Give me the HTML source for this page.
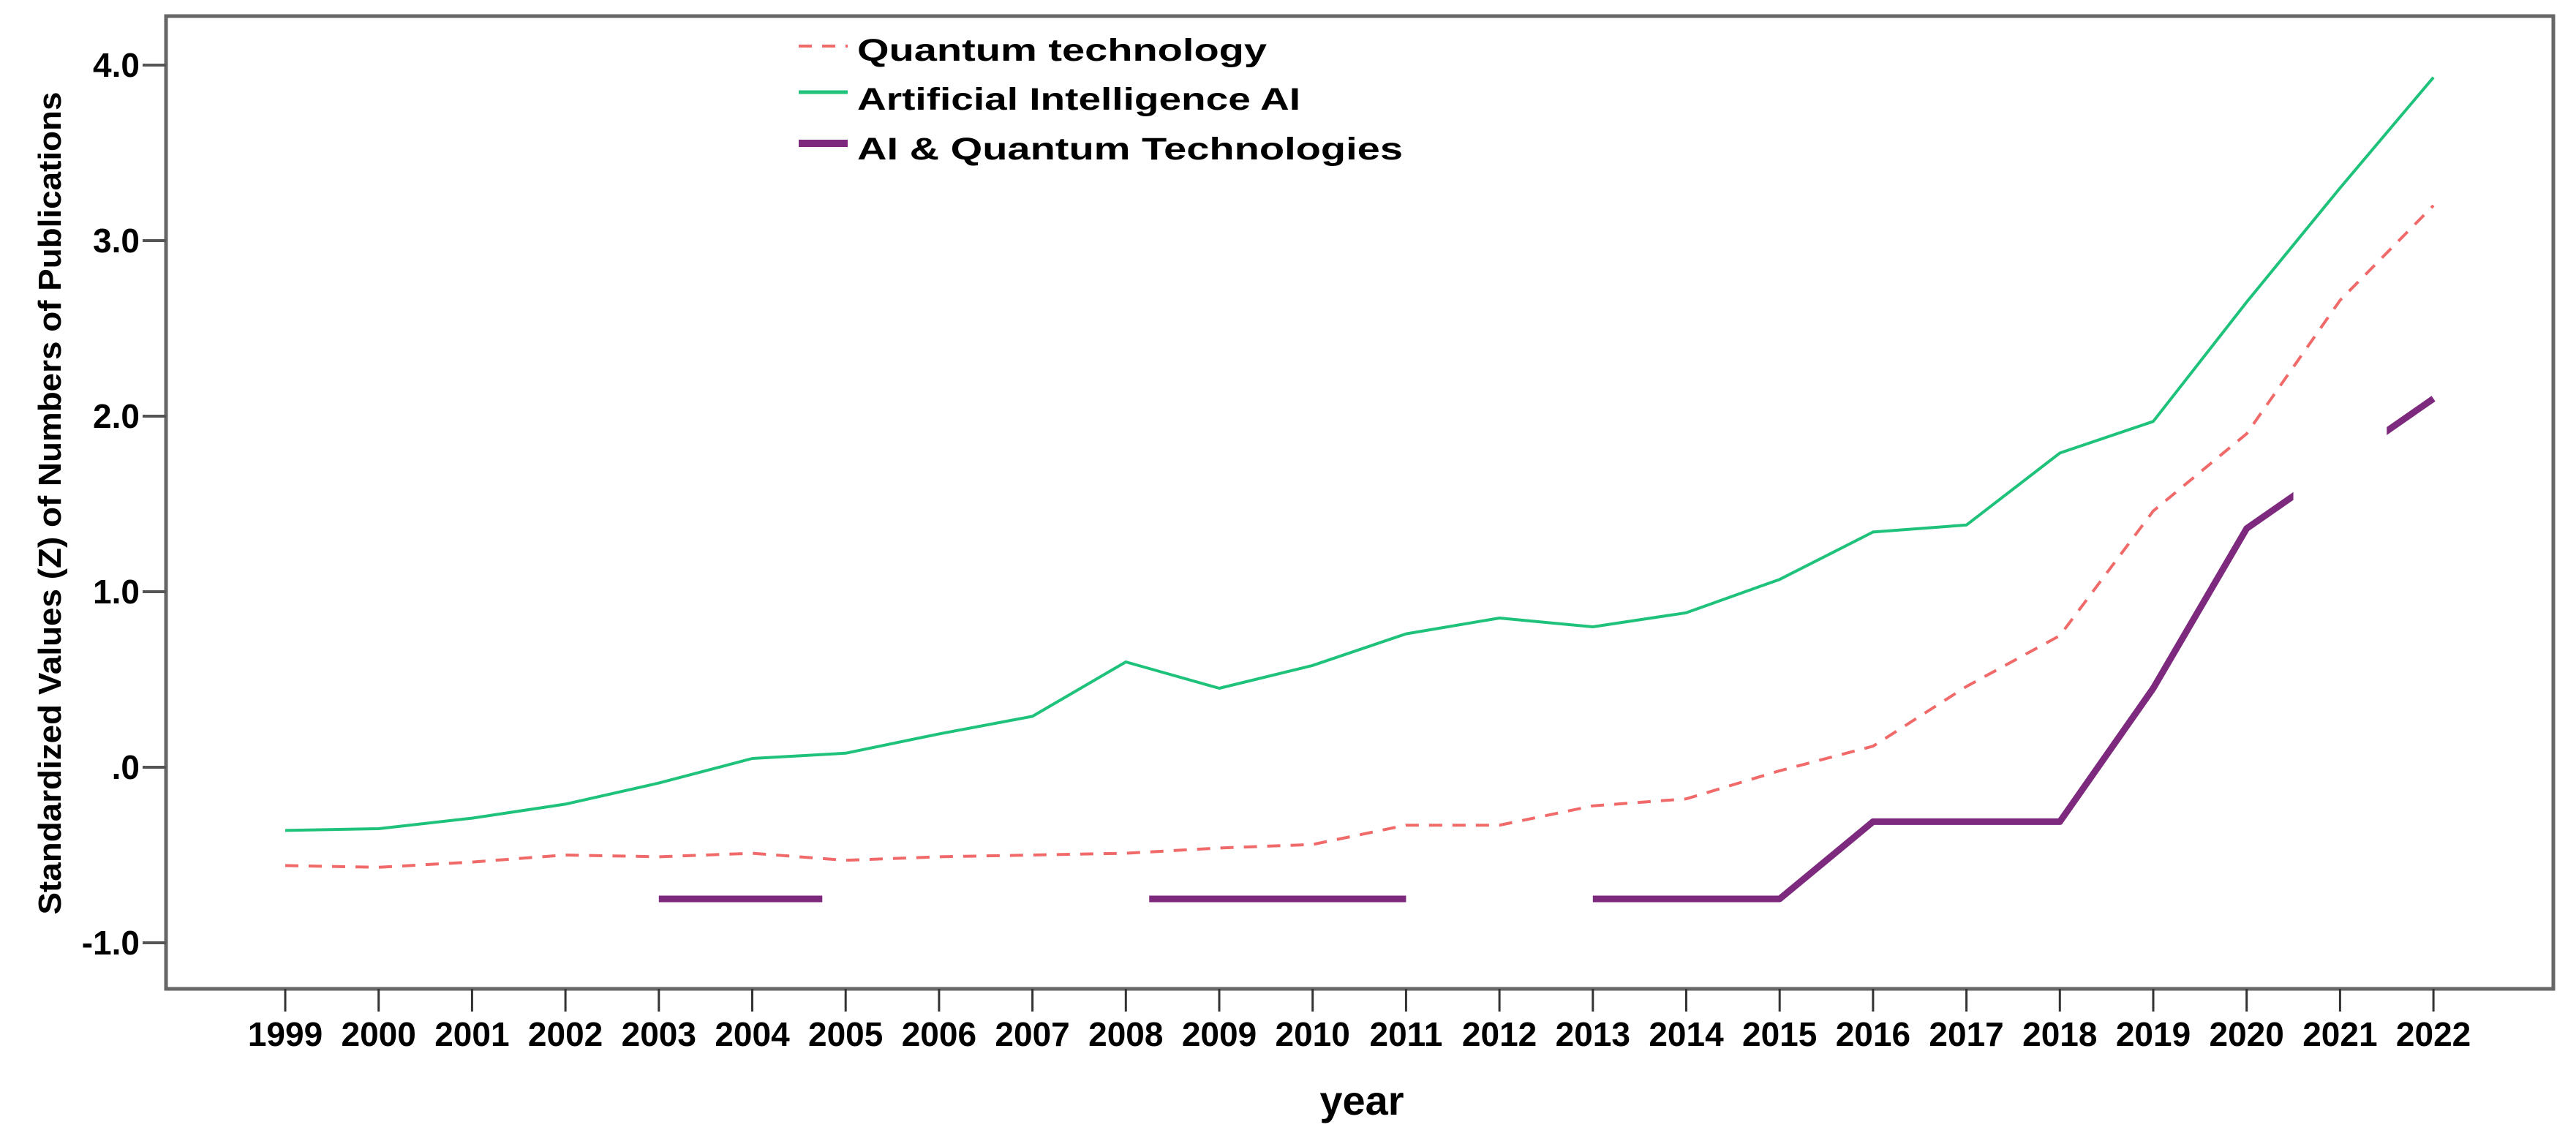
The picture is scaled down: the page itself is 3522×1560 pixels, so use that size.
<!DOCTYPE html>
<html><head><meta charset="utf-8"><style>
html,body{margin:0;padding:0;background:#fff;}
svg{display:block;font-family:"Liberation Sans",Arial,sans-serif;}
</style></head><body>
<svg id="chart" width="3522" height="1560" viewBox="0 0 3522 1560" xmlns="http://www.w3.org/2000/svg">
<defs><mask id="gapmask"><rect id="maskbg" x="0" y="0" width="3522" height="1560" fill="#fff"/></mask></defs>
<rect x="0" y="0" width="3522" height="1560" fill="#fff"/>
<g id="plot"></g>
<text transform="translate(83,688) rotate(-90)" text-anchor="middle" font-size="44" font-weight="bold" textLength="1125" lengthAdjust="spacingAndGlyphs">Standardized Values (Z) of Numbers of Publications</text>
<text x="1862" y="1524" text-anchor="middle" font-size="56" font-weight="bold">year</text>
<g>
  <line x1="1092" y1="63" x2="1159" y2="63" stroke="#f06a6a" stroke-width="4" stroke-dasharray="18,14"/>
  <text x="1172" y="83" font-size="43" font-weight="bold" textLength="560" lengthAdjust="spacingAndGlyphs">Quantum technology</text>
  <line x1="1092" y1="126" x2="1159" y2="126" stroke="#1fc27a" stroke-width="5"/>
  <text x="1172" y="150" font-size="43" font-weight="bold" textLength="606" lengthAdjust="spacingAndGlyphs">Artificial Intelligence AI</text>
  <line x1="1092" y1="196" x2="1159" y2="196" stroke="#7d2a7e" stroke-width="10"/>
  <text x="1172" y="218" font-size="43" font-weight="bold" textLength="746" lengthAdjust="spacingAndGlyphs">AI &amp; Quantum Technologies</text>
</g>
</svg>
<script>
const years = [1999,2000,2001,2002,2003,2004,2005,2006,2007,2008,2009,2010,2011,2012,2013,2014,2015,2016,2017,2018,2019,2020,2021,2022];
const aiValues = [-0.36,-0.35,-0.29,-0.21,-0.09,0.05,0.08,0.19,0.29,0.6,0.45,0.58,0.76,0.85,0.8,0.88,1.07,1.34,1.38,1.79,1.97,2.65,3.3,3.93];
const quantumValues = [-0.56,-0.57,-0.54,-0.5,-0.51,-0.49,-0.53,-0.51,-0.5,-0.49,-0.46,-0.44,-0.33,-0.33,-0.22,-0.18,-0.02,0.12,0.46,0.75,1.46,1.9,2.66,3.2];
const comboValues = [null,null,null,null,-0.75,-0.75,-0.75,-0.75,-0.75,-0.75,-0.75,-0.75,-0.75,-0.75,-0.75,-0.75,-0.75,-0.31,-0.31,-0.31,0.45,1.36,1.73,2.1];
const comboGapStart = [2004.75,2011,2020.5];
const comboGapEnd = [2008.25,2013,2021.5];
const yTickValues = [-1,0,1,2,3,4];
const yTickLabels = ["-1.0",".0","1.0","2.0","3.0","4.0"];

const NS="http://www.w3.org/2000/svg";
const X0=390, XSTEP=127.7, Y0=1049, YUNIT=240;
function xs(yr){return X0+(yr-years[0])*XSTEP;}
function ys(v){return Y0-v*YUNIT;}
const plot=document.getElementById('plot');
function mk(tag,attrs,parent){const e=document.createElementNS(NS,tag);for(const k in attrs)e.setAttribute(k,attrs[k]);(parent||plot).appendChild(e);return e;}

const frame=mk('rect',{x:227,y:22,width:3264,height:1330,fill:'none',stroke:'#666',"stroke-width":5});



yTickValues.forEach((v,i)=>{
  const t=mk('line',{x1:195,x2:227,y1:ys(v),y2:ys(v),stroke:'#555',"stroke-width":4});
  
  
  const l=mk('text',{x:191,y:ys(v)+16,"text-anchor":"end","font-size":46,"font-weight":"bold"});
  l.textContent=yTickLabels[i];
  
  
});
years.forEach(yr=>{
  const t=mk('line',{x1:xs(yr),x2:xs(yr),y1:1352,y2:1383,stroke:'#333',"stroke-width":3});
  
  
  const l=mk('text',{x:xs(yr),y:1430,"text-anchor":"middle","font-size":46,"font-weight":"bold"});
  l.textContent=String(yr);
  
  
});

function pathFrom(vals){
  let d='',pen=false;
  vals.forEach((v,i)=>{
    if(v===null){pen=false;return;}
    d+=(pen?'L':'M')+xs(years[i]).toFixed(1)+','+ys(v).toFixed(1);
    pen=true;
  });
  return d;
}
const mask=document.getElementById('gapmask');
comboGapStart.forEach((s,i)=>{
  mk('rect',{x:xs(s),y:0,width:xs(comboGapEnd[i])-xs(s),height:1560,fill:'#000'},mask);
});

const ai=mk('path',{d:pathFrom(aiValues),fill:'none',stroke:'#1fc27a',"stroke-width":4,"stroke-linejoin":"round"});


const q=mk('path',{d:pathFrom(quantumValues),fill:'none',stroke:'#f06a6a',"stroke-width":4,"stroke-dasharray":"18,14"});


const c=mk('path',{d:pathFrom(comboValues),fill:'none',stroke:'#7d2a7e',"stroke-width":9,"stroke-linejoin":"round",mask:'url(#gapmask)'});


</script>
</body></html>
